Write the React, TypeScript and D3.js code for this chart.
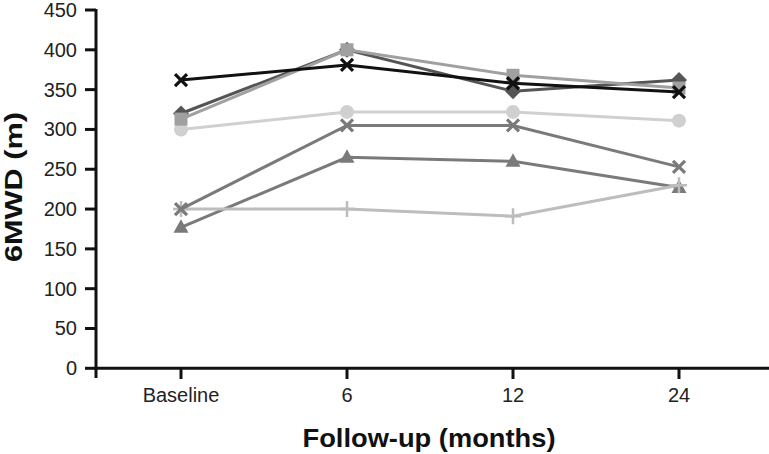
import React from "react";
import * as d3 from "d3";

const categories = ["Baseline", "6", "12", "24"];
const yTicks = [0, 50, 100, 150, 200, 250, 300, 350, 400, 450];

const seriesCircle = [300, 322, 322, 311];
const seriesTriangle = [177, 265, 260, 227];
const seriesPlus = [200, 200, 191, 230];
const seriesGrayX = [200, 305, 305, 253];
const seriesDiamond = [320, 400, 348, 362];
const seriesSquare = [313, 400, 368, 352];
const seriesBlackX = [362, 381, 358, 347];

type Marker = "circle" | "triangle" | "plus" | "x" | "diamond" | "square";

const series: { name: string; values: number[]; color: string; marker: Marker }[] = [
  { name: "circle", values: seriesCircle, color: "#d0d0d0", marker: "circle" },
  { name: "triangle", values: seriesTriangle, color: "#7a7a7a", marker: "triangle" },
  { name: "plus", values: seriesPlus, color: "#bdbdbd", marker: "plus" },
  { name: "grayx", values: seriesGrayX, color: "#7a7a7a", marker: "x" },
  { name: "diamond", values: seriesDiamond, color: "#555555", marker: "diamond" },
  { name: "square", values: seriesSquare, color: "#a0a0a0", marker: "square" },
  { name: "blackx", values: seriesBlackX, color: "#111111", marker: "x" },
];

const W = 769;
const H = 454;
const axisX = 96;
const axisY = 368.3;
const font = "'Liberation Sans', Arial, Helvetica, sans-serif";

const x = d3.scalePoint<string>().domain(categories).range([98, 762]).padding(0.5);
const y = d3.scaleLinear().domain([0, 450]).range([axisY, 10]);

function markerEl(m: Marker, cx: number, cy: number, color: string, key: string) {
  switch (m) {
    case "circle":
      return <circle key={key} cx={cx} cy={cy} r={7} fill={color} />;
    case "square":
      return <rect key={key} x={cx - 6.5} y={cy - 6.5} width={13} height={13} fill={color} />;
    case "diamond":
      return (
        <path key={key} d={`M${cx},${cy - 8}L${cx + 8},${cy}L${cx},${cy + 8}L${cx - 8},${cy}Z`} fill={color} />
      );
    case "triangle":
      return (
        <path key={key} d={`M${cx},${cy - 8}L${cx + 7.5},${cy + 5.5}L${cx - 7.5},${cy + 5.5}Z`} fill={color} />
      );
    case "plus":
      return (
        <path key={key} d={`M${cx - 8},${cy}L${cx + 8},${cy}M${cx},${cy - 8}L${cx},${cy + 8}`} stroke={color} strokeWidth={2.5} fill="none" />
      );
    case "x":
      return (
        <path key={key} d={`M${cx - 6},${cy - 6}L${cx + 6},${cy + 6}M${cx - 6},${cy + 6}L${cx + 6},${cy - 6}`} stroke={color} strokeWidth={3.2} fill="none" />
      );
  }
}

export default function App() {
  const line = d3
    .line<number>()
    .x((_, i) => x(categories[i]) as number)
    .y((d) => y(d));

  return (
    <svg width={W} height={H} style={{ position: "fixed", left: 0, top: 0, background: "#fff" }}>
      <rect width={W} height={H} fill="#fff" />
      {/* Y axis */}
      <line x1={axisX} y1={9} x2={axisX} y2={378} stroke="#111" strokeWidth={3} />
      {yTicks.map((t) => (
        <g key={t}>
          <line x1={85} x2={axisX} y1={y(t)} y2={y(t)} stroke="#111" strokeWidth={3} />
          <text x={77} y={y(t) + 7} textAnchor="end" fontFamily={font} fontSize={20} fill="#222">
            {t}
          </text>
        </g>
      ))}
      {/* X axis */}
      <line x1={axisX - 1.5} y1={axisY} x2={W} y2={axisY} stroke="#111" strokeWidth={3} />
      {categories.map((c) => (
        <g key={c}>
          <line x1={x(c)} x2={x(c)} y1={axisY} y2={379} stroke="#111" strokeWidth={3} />
          <text x={x(c)} y={402} textAnchor="middle" fontFamily={font} fontSize={20} fill="#222">
            {c}
          </text>
        </g>
      ))}
      {/* Titles */}
      <text
        x={429}
        y={447}
        textAnchor="middle"
        fontFamily={font}
        fontSize={26}
        fontWeight="bold"
        fill="#111"
        textLength={253}
        lengthAdjust="spacingAndGlyphs"
      >
        Follow-up (months)
      </text>
      <text
        transform={`translate(22,187) rotate(-90)`}
        textAnchor="middle"
        fontFamily={font}
        fontSize={24}
        fontWeight="bold"
        fill="#111"
        textLength={150}
        lengthAdjust="spacingAndGlyphs"
      >
        6MWD (m)
      </text>
      {/* Series */}
      {series.map((s) => (
        <g key={s.name}>
          <path d={line(s.values) || ""} fill="none" stroke={s.color} strokeWidth={3} />
          {s.values.map((v, i) => markerEl(s.marker, x(categories[i]) as number, y(v), s.color, `${s.name}-${i}`))}
        </g>
      ))}
    </svg>
  );
}
